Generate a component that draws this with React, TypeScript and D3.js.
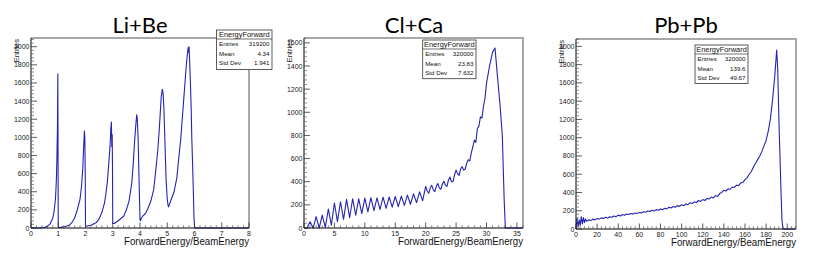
import React from "react";
import * as d3 from "d3";

// ---------- data ----------
const liX = [0, 0.3, 0.5, 0.6, 0.7, 0.8, 0.85, 0.9, 0.93, 0.95, 0.97, 0.985, 0.99, 1.0, 1.01, 1.05, 1.2, 1.4, 1.5, 1.6, 1.7, 1.8, 1.85, 1.9, 1.93, 1.96, 1.975, 1.99, 2.0, 2.02, 2.2, 2.4, 2.5, 2.6, 2.7, 2.75, 2.8, 2.85, 2.9, 2.93, 2.95, 2.965, 2.98, 2.99, 3.0, 3.05, 3.2, 3.4, 3.5, 3.6, 3.65, 3.7, 3.75, 3.8, 3.85, 3.88, 3.9, 3.93, 3.96, 4.0, 4.02, 4.05, 4.1, 4.2, 4.3, 4.4, 4.5, 4.55, 4.6, 4.65, 4.7, 4.75, 4.78, 4.82, 4.85, 4.88, 4.92, 4.96, 5.0, 5.03, 5.05, 5.08, 5.15, 5.25, 5.35, 5.4, 5.45, 5.5, 5.55, 5.6, 5.65, 5.7, 5.75, 5.77, 5.785, 5.8, 5.82, 5.85, 5.88, 5.9, 5.93, 5.96, 5.98, 6.0, 6.02, 8.0];
const liY = [0, 0, 8, 18, 45, 110, 190, 330, 520, 760, 1100, 1700, 1150, 30, 8, 5, 12, 30, 60, 110, 200, 320, 450, 650, 880, 1070, 1000, 600, 30, 20, 30, 60, 100, 170, 280, 380, 500, 700, 900, 1100, 1170, 900, 1030, 700, 50, 50, 80, 130, 200, 300, 400, 500, 700, 950, 1150, 1250, 1200, 1000, 600, 90, 80, 110, 130, 160, 220, 300, 420, 550, 700, 850, 1050, 1300, 1450, 1530, 1480, 1300, 900, 520, 320, 250, 235, 260, 320, 400, 550, 700, 850, 1000, 1200, 1400, 1600, 1800, 1950, 1990, 1940, 2000, 1850, 1600, 1300, 1000, 700, 380, 120, 20, 0, 0];

const clX = [0, 0.5, 1, 1.5, 2, 2.5, 3, 3.5, 4, 4.5, 5, 5.5, 6, 6.5, 7, 7.5, 8, 8.5, 9, 9.5, 10, 10.5, 11, 11.5, 12, 12.5, 13, 13.5, 14, 14.5, 15, 15.5, 16, 16.5, 17, 17.5, 18, 18.5, 19, 19.5, 20, 20.25, 20.5, 20.75, 21, 21.25, 21.5, 21.75, 22, 22.25, 22.5, 22.75, 23, 23.25, 23.5, 23.75, 24, 24.25, 24.5, 24.75, 25, 25.25, 25.5, 25.75, 26, 26.25, 26.5, 26.75, 27, 27.25, 27.5, 27.75, 28, 28.25, 28.5, 28.75, 29, 29.25, 29.5, 29.75, 30, 30.5, 31, 31.4, 31.8, 32.2, 32.6, 32.9, 33.1, 36];
const clY = [0, 0, 54, 0, 98, 0, 112, 5, 164, 25, 216, 55, 227, 75, 248, 90, 253, 110, 252, 125, 258, 140, 262, 150, 260, 160, 266, 170, 268, 180, 272, 185, 276, 195, 284, 205, 295, 220, 312, 235, 360, 320, 300, 345, 370, 330, 315, 360, 385, 345, 335, 380, 405, 370, 360, 415, 440, 400, 400, 460, 500, 470, 455, 510, 530, 500, 510, 560, 590, 580, 650, 700, 760, 740, 860, 880, 960, 950, 1050, 1120, 1250, 1400, 1520, 1555, 1310, 1080, 800, 250, 0, 0];

const pbX = [0, 1, 2, 3, 4, 5, 6, 7, 8, 9, 10, 12, 14, 16, 18, 20, 22, 24, 26, 28, 30, 32, 34, 36, 38, 40, 42, 44, 46, 48, 50, 52, 54, 56, 58, 60, 62, 64, 66, 68, 70, 72, 74, 76, 78, 80, 82, 84, 86, 88, 90, 92, 94, 96, 98, 100, 102, 104, 106, 108, 110, 112, 114, 116, 118, 120, 122, 124, 126, 128, 130, 132, 134, 136, 138, 140, 142, 144, 146, 148, 150, 152, 154, 156, 158, 160, 162, 164, 166, 168, 170, 172, 174, 176, 178, 180, 182, 184, 186, 188, 189, 190, 191, 192, 193, 194, 195, 196, 208];
const pbY = [0, 120, 20, 100, 40, 135, 55, 125, 70, 110, 85, 100, 92, 108, 100, 116, 108, 122, 115, 128, 120, 135, 128, 142, 135, 152, 143, 158, 150, 165, 158, 170, 163, 176, 170, 182, 176, 190, 183, 198, 192, 205, 198, 212, 206, 220, 212, 228, 220, 238, 230, 246, 238, 256, 248, 265, 255, 275, 266, 288, 278, 298, 290, 312, 302, 322, 312, 335, 328, 350, 340, 365, 358, 388, 400, 425, 415, 440, 435, 460, 455, 480, 475, 505, 510, 540, 560, 600, 630, 680, 720, 760, 800, 850, 910, 970, 1070, 1200, 1400, 1650, 1800, 1960, 1750, 1250, 850, 450, 100, 0, 0];

const titles = ["Li+Be", "Cl+Ca", "Pb+Pb"];
const statLabels = ["Entries", "Mean", "Std Dev"];
const liStats = ["319200", "4.34", "1.941"];
const clStats = ["320000", "23.83", "7.632"];
const pbStats = ["320000", "139.6", "49.67"];
const statTitle = "EnergyForward";
const xTitle = "ForwardEnergy/BeamEnergy";
const yTitle = "Entries";

// ---------- layout ----------
const panels = [
  { xs: liX, ys: liY, title: titles[0], stats: liStats, fx0: 31, fx1: 249, fy0: 38, fy1: 228, xMax: 8, yMax: 2096, xStep: 1, xSub: 5, yMaxTick: 2000, titleX: 140, box: { x: 216.5, y: 30, w: 55.5, h: 39.5 }, entX: 18.5 },
  { xs: clX, ys: clY, title: titles[1], stats: clStats, fx0: 304, fx1: 523, fy0: 38, fy1: 228, xMax: 36, yMax: 1642, xStep: 5, xSub: 5, yMaxTick: 1600, titleX: 414, box: { x: 422.7, y: 40, w: 53.3, h: 38.7 }, entX: 291.5 },
  { xs: pbX, ys: pbY, title: titles[2], stats: pbStats, fx0: 576, fx1: 796, fy0: 39, fy1: 229, xMax: 208.3, yMax: 2081, xStep: 20, xSub: 5, yMaxTick: 2000, titleX: 686, box: { x: 695, y: 45, w: 53, h: 38.5 }, entX: 564 },
];

const FONT = "'Liberation Sans', Arial, sans-serif";

function Panel({ p }: { p: any }) {
  const x = d3.scaleLinear().domain([0, p.xMax]).range([p.fx0, p.fx1]);
  const y = d3.scaleLinear().domain([0, p.yMax]).range([p.fy1, p.fy0]);
  const pts = p.xs.map((v: number, i: number) => [v, p.ys[i]] as [number, number]);
  const line = d3.line<[number, number]>().x((d) => x(d[0])).y((d) => y(d[1]));

  const xMajor = d3.range(0, p.xMax + 1e-9, p.xStep);
  const xMinor = d3.range(0, p.xMax + 1e-9, p.xStep / p.xSub).filter((v) => Math.abs(v / p.xStep - Math.round(v / p.xStep)) > 1e-6);
  const yMajor = d3.range(0, p.yMaxTick + 1e-9, 200);
  const yMinor = d3.range(0, p.yMax, 40).filter((v) => v % 200 !== 0);
  const b = p.box;

  return (
    <g>
      <text x={p.titleX} y={32.5} textAnchor="middle" fontFamily="Lato, 'Open Sans', sans-serif" fontSize={22} fill="#000">
        {p.title}
      </text>
      {/* frame shadow */}
      <line x1={p.fx0} x2={p.fx1 + 1} y1={p.fy0} y2={p.fy0} stroke="#a8a8a8" strokeWidth={2} />
      <line x1={p.fx1} x2={p.fx1} y1={p.fy0} y2={p.fy1} stroke="#a8a8a8" strokeWidth={2} />
      {/* histogram */}
      <path d={line(pts) || ""} fill="none" stroke="#2424b4" strokeWidth={1.1} strokeLinejoin="round" />
      {/* axes */}
      <line x1={p.fx0} x2={p.fx0} y1={p.fy0} y2={p.fy1} stroke="#000" strokeWidth={1} />
      <line x1={p.fx0} x2={p.fx1} y1={p.fy1} y2={p.fy1} stroke="#000" strokeWidth={1} />
      {yMajor.map((v) => (
        <g key={"ym" + v}>
          <line x1={p.fx0} x2={p.fx0 + 6} y1={y(v)} y2={y(v)} stroke="#333" strokeWidth={0.8} />
          <text x={p.fx0 - 1.5} y={y(v) + 2.5} textAnchor="end" fontFamily={FONT} fontSize={7} fill="#222">
            {v}
          </text>
        </g>
      ))}
      {yMinor.map((v) => (
        <line key={"yn" + v} x1={p.fx0} x2={p.fx0 + 3} y1={y(v)} y2={y(v)} stroke="#666" strokeWidth={0.7} />
      ))}
      {xMajor.map((v) => (
        <g key={"xm" + v}>
          <line x1={x(v)} x2={x(v)} y1={p.fy1} y2={p.fy1 - 5.5} stroke="#333" strokeWidth={0.8} />
          <text x={x(v)} y={p.fy1 + 7.5} textAnchor="middle" fontFamily={FONT} fontSize={7} fill="#222">
            {v}
          </text>
        </g>
      ))}
      {xMinor.map((v) => (
        <line key={"xn" + v} x1={x(v)} x2={x(v)} y1={p.fy1} y2={p.fy1 - 2.8} stroke="#555" strokeWidth={0.7} />
      ))}
      {/* axis titles */}
      <text x={p.fx1} y={p.fy1 + 17} textAnchor="end" fontFamily={FONT} fontSize={11} fill="#111" textLength={125} lengthAdjust="spacingAndGlyphs">
        {xTitle}
      </text>
      <text transform={`translate(${p.entX},${p.fy0 + 1}) rotate(-90)`} textAnchor="end" fontFamily={FONT} fontSize={7.5} fill="#222">
        {yTitle}
      </text>
      {/* stats box */}
      <rect x={b.x} y={b.y} width={b.w} height={b.h} fill="#fff" stroke="#333" strokeWidth={0.8} />
      <line x1={b.x} x2={b.x + b.w} y1={b.y + 9} y2={b.y + 9} stroke="#333" strokeWidth={0.7} />
      <text x={b.x + b.w / 2} y={b.y + 7.2} textAnchor="middle" fontFamily={FONT} fontSize={7.4} fill="#111">
        {statTitle}
      </text>
      {statLabels.map((l, i) => (
        <g key={l}>
          <text x={b.x + 2.5} y={b.y + 9 + (i + 1) * 9.8 - 3} fontFamily={FONT} fontSize={6.2} fill="#111">
            {l}
          </text>
          <text x={b.x + b.w - 2.5} y={b.y + 9 + (i + 1) * 9.8 - 3} textAnchor="end" fontFamily={FONT} fontSize={6.2} fill="#111">
            {p.stats[i]}
          </text>
        </g>
      ))}
    </g>
  );
}

export default function App() {
  return (
    <svg width={817} height={258} style={{ position: "absolute", left: 0, top: 0, background: "#fff" }}>
      <rect x={0} y={0} width={817} height={258} fill="#fff" />
      {panels.map((p) => (
        <Panel key={p.title} p={p} />
      ))}
    </svg>
  );
}
